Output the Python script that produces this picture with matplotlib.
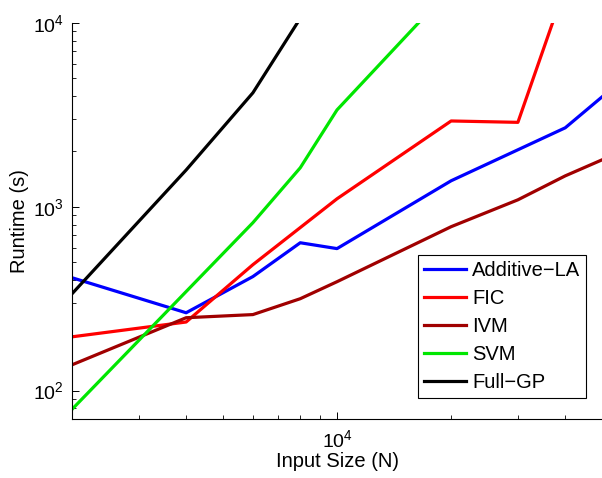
import matplotlib
matplotlib.use('Agg')
import matplotlib.pyplot as plt
import numpy as np
from matplotlib.ticker import LogLocator, NullFormatter

plt.rcParams['font.family'] = ['Liberation Sans', 'DejaVu Sans']

n_add = [2000, 4000, 6000, 8000, 10000, 20000, 40000, 50000]
t_add = [411, 265, 417, 637, 592, 1385, 2690, 3960]

n_fic = [2000, 4000, 6000, 10000, 20000, 30000, 40000]
t_fic = [196, 236, 484, 1105, 2930, 2880, 15800]

n_ivm = [2000, 4000, 6000, 8000, 10000, 20000, 30000, 40000, 50000]
t_ivm = [138, 249, 259, 316, 391, 779, 1091, 1473, 1800]

n_svm = [2000, 6000, 8000, 10000, 20000]
t_svm = [79, 819, 1630, 3365, 15500]

n_gp = [2000, 4000, 6000, 8000]
t_gp = [336, 1585, 4170, 10600]

labels = ['Additive\u2212LA', 'FIC', 'IVM', 'SVM', 'Full\u2212GP']
colors = ['#0000ff', '#ff0000', '#a00000', '#00e600', '#000000']

fig = plt.figure(figsize=(6.02, 4.78), dpi=100)
ax = fig.add_axes([72 / 602, 59 / 478, 530 / 602, 396 / 478])

series = [(n_add, t_add), (n_fic, t_fic), (n_ivm, t_ivm), (n_svm, t_svm), (n_gp, t_gp)]
for (n, t), lab, c in zip(series, labels, colors):
    ax.plot(n, t, color=c, lw=2.3, label=lab)

ax.set_xscale('log')
ax.set_yscale('log')
ax.set_xlim(2000, 50000)
ax.set_ylim(70, 10000)

ax.xaxis.set_major_locator(LogLocator(base=10))
ax.xaxis.set_minor_locator(LogLocator(base=10, subs=np.arange(2, 10)))
ax.xaxis.set_minor_formatter(NullFormatter())
ax.yaxis.set_minor_locator(LogLocator(base=10, subs=np.arange(2, 10)))
ax.yaxis.set_minor_formatter(NullFormatter())

for s in ['top', 'right']:
    ax.spines[s].set_visible(False)
ax.spines['left'].set_linewidth(0.8)
ax.spines['bottom'].set_linewidth(0.8)

ax.tick_params(which='major', direction='in', length=5, width=0.7, labelsize=14)
ax.tick_params(axis='x', which='major', pad=7)
ax.tick_params(axis='y', which='major', pad=6)
ax.tick_params(which='minor', direction='in', length=3, width=0.6)

ax.set_xlabel('Input Size (N)', fontsize=14.5, labelpad=1)
ax.set_ylabel('Runtime (s)', fontsize=14.5, labelpad=3)

leg = ax.legend(loc='lower right', bbox_to_anchor=(0.97, 0.053), fontsize=14.5,
                frameon=True, fancybox=False, edgecolor='black', framealpha=1,
                handlelength=2.1, handletextpad=0.3, labelspacing=0.45,
                borderpad=0.3, borderaxespad=0)
leg.get_frame().set_linewidth(0.8)

fig.savefig('out.png', dpi=100)
